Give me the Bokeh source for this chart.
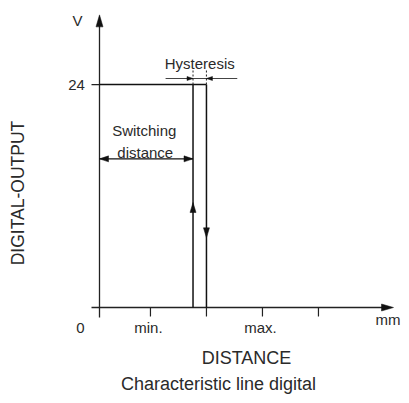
from bokeh.plotting import figure
from bokeh.models import Range1d
from bokeh.core.properties import value
from bokeh.embed import file_html
from bokeh.resources import INLINE
import math

# ---- data (conceptual units: x = distance steps, y = volts) ----
distance_ticks = [0.0, 0.91, 1.91, 2.91, 3.91]
distance_tick_labels = ["0", "min.", "", "max.", ""]
output_high = 24
output_tick_labels = ["24"]
switch_on = 1.67
switch_off = 1.91
axis_x_end = 5.25
axis_y_end = 31.5
switching_arrow_level = 16
hysteresis_level = 24.65
hysteresis_span = [1.18, 2.46]
hysteresis_mark_top = 25.6
up_arrow_tip = 11.3
down_arrow_tip = 7.5

# ---- layout ----
W, H = 401, 395
PX_X = 56.0     # pixels per distance unit
PX_Y = 9.29     # pixels per volt
x0 = -99 / PX_X
x1 = x0 + W / PX_X
y1 = 307 / PX_Y
y0 = y1 - H / PX_Y

FONT = value("Liberation Sans")
LINE = "#222222"
TEXT = "#2a2a2a"

p = figure(width=W, height=H, output_backend="svg", toolbar_location=None,
           x_range=Range1d(x0, x1), y_range=Range1d(y0, y1),
           min_border=0, min_border_left=0, min_border_right=0,
           min_border_top=0, min_border_bottom=0)
p.axis.visible = False
p.grid.visible = False
p.outline_line_color = None
p.background_fill_color = "white"
p.border_fill_color = "white"


def dx(px):
    return px / PX_X


def dy(px):
    return px / PX_Y


def head(tx, ty, direction, length=10, width=7):
    """triangle arrow head with tip at (tx, ty)"""
    if direction == "up":
        return [tx, tx - dx(width / 2), tx + dx(width / 2)], [ty, ty - dy(length), ty - dy(length)]
    if direction == "down":
        return [tx, tx - dx(width / 2), tx + dx(width / 2)], [ty, ty + dy(length), ty + dy(length)]
    if direction == "right":
        return [tx, tx - dx(length), tx - dx(length)], [ty, ty - dy(width / 2), ty + dy(width / 2)]
    return [tx, tx + dx(length), tx + dx(length)], [ty, ty - dy(width / 2), ty + dy(width / 2)]


heads_x, heads_y = [], []

# axes
p.line([-dx(8), axis_x_end - dx(6)], [0, 0], line_color=LINE, line_width=1.3)
p.line([0, 0], [-dy(10), axis_y_end - dy(6)], line_color=LINE, line_width=1.3)
for hx, hy in [head(axis_x_end, 0, "right", 12, 7), head(0, axis_y_end, "up", 12, 7)]:
    heads_x.append(hx)
    heads_y.append(hy)

# x ticks
for t in distance_ticks[1:]:
    p.line([t, t], [0, -dy(9)], line_color=LINE, line_width=1.2)
# y tick at 24
p.line([-dx(8), 0], [output_high, output_high], line_color=LINE, line_width=1.3)

# switching characteristic
p.line([switch_on, switch_on], [0, output_high], line_color="#111111", line_width=1.5)
p.line([0, switch_off], [output_high, output_high], line_color="#111111", line_width=1.5)
p.line([switch_off, switch_off], [output_high, 0], line_color="#111111", line_width=1.5)
for hx, hy in [head(switch_on, up_arrow_tip, "up", 10, 6),
               head(switch_off, down_arrow_tip, "down", 10, 6)]:
    heads_x.append(hx)
    heads_y.append(hy)

# switching distance arrow
p.line([0, switch_on], [switching_arrow_level] * 2, line_color="#111111", line_width=1.3)
for hx, hy in [head(0, switching_arrow_level, "left", 9, 6),
               head(switch_on, switching_arrow_level, "right", 9, 6)]:
    heads_x.append(hx)
    heads_y.append(hy)

# hysteresis marker
p.line(hysteresis_span, [hysteresis_level] * 2, line_color="#444444", line_width=1.2)
for xv in [switch_on, switch_off]:
    p.line([xv, xv], [output_high, hysteresis_mark_top], line_color="#333333",
           line_width=1.1, line_dash="2 2")
for hx, hy in [head(switch_on, hysteresis_level, "right", 6, 4),
               head(switch_off, hysteresis_level, "left", 6, 4)]:
    heads_x.append(hx)
    heads_y.append(hy)

p.patches(heads_x, heads_y, fill_color="#111111", line_color="#111111", line_width=0.5)

# ---- texts ----
lbl_x = [t - dx(2) if i else t - dx(19) for i, t in enumerate(distance_ticks)]
lbls = [(x, l) for x, l in zip(lbl_x, distance_tick_labels) if l]
p.text(x=[a for a, _ in lbls], y=[-dy(20)] * len(lbls), text=[b for _, b in lbls],
       text_align="center", text_baseline="middle", text_font=FONT,
       text_font_size="15px", text_color=TEXT)
p.text(x=[axis_x_end + dx(7)], y=[-dy(12)], text=["mm"], text_align="right",
       text_baseline="middle", text_font=FONT, text_font_size="15px", text_color=TEXT)
p.text(x=[-dx(23)], y=[output_high], text=output_tick_labels, text_align="center",
       text_baseline="middle", text_font=FONT, text_font_size="15px", text_color=TEXT)
p.text(x=[-dx(22)], y=[axis_y_end - dy(6)], text=["V"], text_align="center",
       text_baseline="middle", text_font=FONT, text_font_size="15px", text_color=TEXT)
p.text(x=[(switch_on + switch_off) / 2], y=[hysteresis_level + dy(15)], text=["Hysteresis"],
       text_align="center", text_baseline="alphabetic", text_font=FONT,
       text_font_size="15px", text_color=TEXT)
p.text(x=[switch_on / 2 - dx(2), switch_on / 2 - dx(1)],
       y=[switching_arrow_level + dy(28), switching_arrow_level + dy(6)],
       text=["Switching", "distance"], text_align="center", text_baseline="alphabetic",
       text_font=FONT, text_font_size="15px", text_color=TEXT)
p.text(x=[dx(147)], y=[-dy(50)], text=["DISTANCE"], text_align="center",
       text_baseline="middle", text_font=FONT, text_font_size="18px", text_color=TEXT)
p.text(x=[dx(119)], y=[-dy(76)], text=["Characteristic line digital"], text_align="center",
       text_baseline="alphabetic", text_font=FONT, text_font_size="18px", text_color=TEXT)
p.text(x=[-dx(81.5)], y=[dy(114.5)], text=["DIGITAL-OUTPUT"], angle=math.pi / 2,
       text_align="center", text_baseline="middle", text_font=FONT,
       text_font_size="17.5px", text_color=TEXT)

open("out.html", "w").write(file_html(p, INLINE))
